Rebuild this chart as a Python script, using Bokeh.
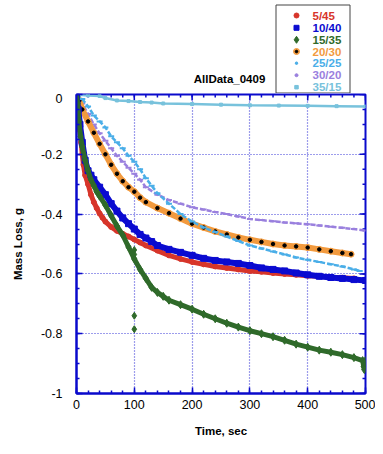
import math
from bokeh.plotting import figure
from bokeh.models import FixedTicker, Range1d, ColumnDataSource
from bokeh.core.properties import value
from bokeh.embed import file_html
from bokeh.resources import INLINE

# ---------------- data ----------------
t_5_45 = [0, 2, 4, 6, 8, 10, 12, 15, 20, 25, 30, 35, 40, 45, 50, 60, 70, 80, 90, 100,
          110, 120, 140, 160, 180, 200, 220, 240, 260, 280, 300, 320, 340, 360, 380,
          400, 420, 440, 460, 480]
m_5_45 = [0, -0.04, -0.085, -0.12, -0.16, -0.2, -0.235, -0.27, -0.3, -0.335, -0.36,
          -0.38, -0.398, -0.412, -0.425, -0.443, -0.456, -0.466, -0.475, -0.485,
          -0.495, -0.505, -0.522, -0.538, -0.55, -0.56, -0.568, -0.575, -0.58, -0.585,
          -0.59, -0.593, -0.597, -0.6, -0.603, -0.606, -0.608, -0.611, -0.613, -0.615]

t_10_40 = [0, 3, 6, 10, 15, 20, 25, 30, 40, 50, 60, 70, 80, 90, 100, 110, 120, 130,
           140, 160, 180, 200, 220, 240, 260, 280, 300, 320, 340, 360, 380, 400, 420,
           440, 460, 480, 500]
m_10_40 = [0, -0.05, -0.1, -0.16, -0.22, -0.255, -0.27, -0.285, -0.31, -0.335, -0.365,
           -0.39, -0.413, -0.432, -0.45, -0.468, -0.48, -0.492, -0.505, -0.518, -0.528,
           -0.538, -0.548, -0.555, -0.56, -0.565, -0.572, -0.58, -0.585, -0.59, -0.597,
           -0.603, -0.608, -0.612, -0.615, -0.619, -0.622]

t_15_35 = [0, 2, 4, 7, 10, 15, 20, 25, 30, 35, 40, 50, 60, 70, 80, 90, 100, 110, 120,
           130, 140, 150, 160, 180, 200, 220, 240, 260, 280, 300, 320, 340, 360, 380,
           400, 420, 440, 460, 480, 495, 497, 498, 500]
m_15_35 = [0, -0.03, -0.09, -0.14, -0.175, -0.22, -0.255, -0.285, -0.305, -0.325, -0.34,
           -0.37, -0.405, -0.44, -0.47, -0.51, -0.55, -0.585, -0.615, -0.645, -0.662,
           -0.675, -0.688, -0.703, -0.718, -0.735, -0.75, -0.765, -0.778, -0.79, -0.8,
           -0.81, -0.822, -0.835, -0.845, -0.855, -0.862, -0.87, -0.88, -0.89, -0.91,
           -0.92, -0.89]
t_15_35_out = [100, 100, 100, 100]
m_15_35_out = [-0.52, -0.535, -0.74, -0.785]

t_20_30 = [0, 5, 10, 20, 30, 40, 50, 60, 70, 80, 90, 100, 110, 120, 140, 160, 180, 200,
           220, 240, 260, 280, 300, 320, 340, 360, 380, 400, 420, 440, 460, 475]
m_20_30 = [0, -0.02, -0.05, -0.09, -0.128, -0.165, -0.2, -0.235, -0.265, -0.29, -0.31,
           -0.325, -0.345, -0.36, -0.38, -0.397, -0.415, -0.432, -0.445, -0.458, -0.468,
           -0.478, -0.486, -0.493, -0.5, -0.505, -0.508, -0.512, -0.518, -0.524, -0.53,
           -0.534]

t_25_25 = [0, 10, 20, 30, 40, 50, 60, 70, 80, 90, 100, 110, 120, 130, 140, 160, 180,
           200, 220, 240, 260, 280, 300, 320, 340, 360, 380, 400, 420, 440, 460, 480, 490]
m_25_25 = [0, -0.015, -0.04, -0.07, -0.09, -0.11, -0.14, -0.16, -0.18, -0.205, -0.225,
           -0.25, -0.28, -0.305, -0.33, -0.365, -0.4, -0.425, -0.445, -0.46, -0.475,
           -0.49, -0.505, -0.515, -0.525, -0.535, -0.545, -0.553, -0.56, -0.568, -0.575,
           -0.585, -0.59]

t_30_20 = [0, 10, 20, 30, 40, 50, 60, 70, 80, 90, 100, 110, 120, 140, 160, 180, 200, 220,
           240, 260, 280, 300, 320, 340, 360, 380, 400, 420, 440, 460, 480, 500]
m_30_20 = [0, -0.03, -0.065, -0.1, -0.13, -0.155, -0.18, -0.205, -0.225, -0.245, -0.265,
           -0.285, -0.31, -0.335, -0.353, -0.365, -0.377, -0.385, -0.393, -0.4, -0.408,
           -0.416, -0.42, -0.424, -0.428, -0.431, -0.434, -0.438, -0.442, -0.446, -0.45,
           -0.455]

t_35_15 = [0, 20, 40, 50, 70, 90, 110, 130, 150, 200, 250, 300, 350, 400, 450, 500]
m_35_15 = [0, -0.003, -0.005, -0.012, -0.02, -0.022, -0.025, -0.027, -0.03, -0.032,
           -0.034, -0.036, -0.037, -0.038, -0.039, -0.04]

labels = ["5/45", "10/40", "15/35", "20/30", "25/25", "30/20", "35/15"]
title_text = "AllData_0409"
x_ticks = [0, 100, 200, 300, 400, 500]
y_ticks = [-1, -0.8, -0.6, -0.4, -0.2, 0]
y_tick_labels = ["-1", "-0.8", "-0.6", "-0.4", "-0.2", "0"]
x_minor = [v for v in range(0, 501, 20)]
y_minor = [round(-1 + 0.05 * i, 2) for i in range(21)]

# ---------------- style ----------------
RED = "#d7352a"
BLUE = "#0b0bd0"
GREEN = "#2f6a2a"
ORANGE = "#f29a3e"
LBLUE = "#4aaee8"
PURPLE = "#9a80de"
CYAN = "#78c2dc"
FRAME = "#0a0acc"
GRID = "#3a3ad8"
FONT = "Liberation Sans"

W = 375
TOTAL_H = 443          # two stacked roots (+ a few px gap between them) <= 446
TOP_H = 93
X0, X1, Y0, Y1 = 0, 500, -1, 0

# ---------------- header figure: title + legend (canvas pixel coordinates) --------
head = figure(width=W, height=TOP_H, output_backend="svg", toolbar_location=None,
              x_range=Range1d(0, W), y_range=Range1d(TOP_H, 0),
              frame_width=W, frame_height=TOP_H,
              min_border=0, min_border_left=0, min_border_right=0,
              min_border_top=0, min_border_bottom=0)
head.axis.visible = False
head.grid.visible = False
head.outline_line_color = None
head.background_fill_color = "white"
head.border_fill_color = "white"

head.text(x=[229], y=[78], text=[title_text], text_align="center",
          text_baseline="middle", text_font=value(FONT), text_font_size="11.5px",
          text_font_style="bold", text_color="black")

# legend box
head.quad(left=[275.5], right=[349.5], top=[4.5], bottom=[TOP_H - 0.5],
          fill_color="white", line_color="#444444", line_width=1)

colors = [RED, BLUE, GREEN, ORANGE, LBLUE, PURPLE, CYAN]
markers = ["circle", "square", "diamond", "circle", "circle", "circle", "square"]
msizes = [5, 5, 7, 6, 2.5, 3, 3.5]
item_y = [15, 27.3, 39.3, 51, 62.7, 74.7, 86.7]
leg = ColumnDataSource(dict(x=[296] * 7, tx=[312] * 7, y=item_y, c=colors,
                            m=markers, s=msizes, lab=labels))
head.scatter(x="x", y="y", marker="m", size="s", color="c", source=leg)
head.scatter(x=[296], y=[item_y[3]], marker="circle", size=2.5, color="black")
head.text(x="tx", y="y", text="lab", text_color="c", source=leg, text_align="left",
          text_baseline="middle", text_font=value(FONT), text_font_size="11.5px",
          text_font_style="bold")

# ---------------- main figure ----------------
MAIN_H = TOTAL_H - TOP_H
p = figure(width=W, height=MAIN_H, output_backend="svg",
           toolbar_location=None,
           x_range=Range1d(X0, X1), y_range=Range1d(Y0, Y1),
           min_border_left=76, min_border_right=10, min_border_top=1,
           min_border_bottom=MAIN_H - 1 - 299)
p.background_fill_color = "white"
p.border_fill_color = "white"
p.outline_line_color = FRAME
p.outline_line_width = 2

p.xaxis.ticker = FixedTicker(ticks=x_ticks, minor_ticks=x_minor)
p.yaxis.ticker = FixedTicker(ticks=y_ticks, minor_ticks=y_minor)
p.yaxis.major_label_overrides = {v: s for v, s in zip(y_ticks, y_tick_labels)}

for ax in p.xaxis + p.yaxis:
    ax.axis_line_color = FRAME
    ax.axis_line_width = 2
    ax.major_tick_line_color = FRAME
    ax.minor_tick_line_color = FRAME
    ax.major_tick_line_width = 1.5
    ax.minor_tick_line_width = 1.5
    ax.major_tick_in = 6
    ax.major_tick_out = 0
    ax.minor_tick_in = 3
    ax.minor_tick_out = 0
    ax.major_label_text_font = FONT
    ax.major_label_text_font_size = "12.5px"
    ax.major_label_text_color = "black"
    ax.axis_label_text_font = FONT
    ax.axis_label_text_font_size = "11.5px"
    ax.axis_label_text_font_style = "bold"
    ax.axis_label_text_color = "black"
p.xaxis.axis_label = "Time, sec"
p.yaxis.axis_label = "Mass Loss, g"
p.xaxis.major_label_standoff = 6
p.xaxis.axis_label_standoff = 13
p.yaxis.major_label_standoff = 14
p.yaxis.axis_label_standoff = 14

p.xgrid.grid_line_color = GRID
p.ygrid.grid_line_color = GRID
p.xgrid.grid_line_dash = "1 2"
p.ygrid.grid_line_dash = "1 2"
p.xgrid.grid_line_width = 1.2
p.ygrid.grid_line_width = 1.2

# ticks on the top and right edges (pointing inward)
p.ray(x=x_ticks, y=[Y1] * len(x_ticks), length=6, angle=-math.pi / 2,
      length_units="screen", line_color=FRAME, line_width=1.5)
p.ray(x=x_minor, y=[Y1] * len(x_minor), length=3, angle=-math.pi / 2,
      length_units="screen", line_color=FRAME, line_width=1.5)
p.ray(x=[X1] * len(y_ticks), y=y_ticks, length=6, angle=math.pi,
      length_units="screen", line_color=FRAME, line_width=1.5)
p.ray(x=[X1] * len(y_minor), y=y_minor, length=3, angle=math.pi,
      length_units="screen", line_color=FRAME, line_width=1.5)

# ---------------- series ----------------
p.line(t_35_15, m_35_15, line_color=CYAN, line_width=2.5)
p.scatter(t_35_15, m_35_15, marker="square", size=3, color=CYAN)

p.line(t_30_20, m_30_20, line_color=PURPLE, line_width=2.5, line_dash="5 2")
p.scatter(t_30_20, m_30_20, marker="dash", size=6, line_color=PURPLE, line_width=2)

p.line(t_20_30, m_20_30, line_color=ORANGE, line_width=6)
p.scatter(t_20_30, m_20_30, marker="circle", size=6, color=ORANGE)
p.scatter(t_20_30, m_20_30, marker="circle", size=3.5, color="black")

p.line(t_25_25, m_25_25, line_color=LBLUE, line_width=2.5, line_dash="5 2")
p.scatter(t_25_25, m_25_25, marker="dash", size=6, line_color=LBLUE, line_width=2)

p.line(t_5_45, m_5_45, line_color=RED, line_width=5)
p.scatter(t_5_45, m_5_45, marker="circle", size=5, color=RED)

p.line(t_10_40, m_10_40, line_color=BLUE, line_width=6)
p.scatter(t_10_40, m_10_40, marker="square", size=6, color=BLUE)

p.line(t_15_35, m_15_35, line_color=GREEN, line_width=5)
p.scatter(t_15_35, m_15_35, marker="diamond", size=8, color=GREEN)
p.scatter(t_15_35_out, m_15_35_out, marker="diamond", size=7, color=GREEN)

open("out.html", "w").write(file_html([head, p], INLINE))
